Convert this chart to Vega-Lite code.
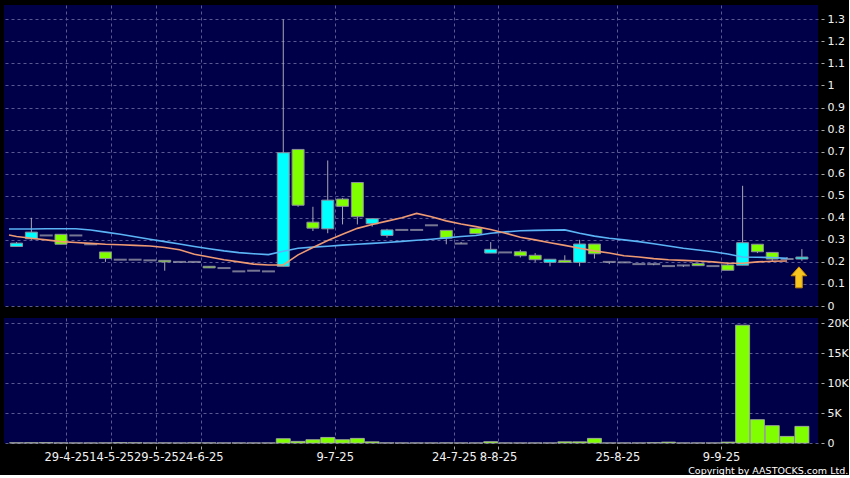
{
  "$schema": "https://vega.github.io/schema/vega-lite/v6.json",
  "background": "#000000",
  "padding": {"left": 4, "top": 5, "right": 0, "bottom": 0},
  "config": {
    "view": {"fill": "#000048", "stroke": null},
    "concat": {"spacing": 6},
    "font": "DejaVu Sans",
    "axis": {
      "gridColor": "#5a5a92",
      "gridDash": [3, 3],
      "gridWidth": 1,
      "domain": false,
      "tickColor": "#a8a8a8",
      "tickSize": 3,
      "labelColor": "#f2f2f2",
      "labelFont": "DejaVu Sans",
      "labelFontSize": 11,
      "title": null
    }
  },
  "title": {
    "text": "Copyright by AASTOCKS.com Ltd.",
    "orient": "bottom",
    "anchor": "end",
    "frame": "bounds",
    "color": "#ffffff",
    "font": "DejaVu Sans",
    "fontSize": 9.5,
    "fontWeight": "normal",
    "offset": 3
  },
  "datasets": {
    "candles": [
      {"i": 0, "o": 0.27, "h": 0.29, "l": 0.27, "c": 0.285, "v": 30},
      {"i": 1, "o": 0.305, "h": 0.40, "l": 0.30, "c": 0.335, "v": 40},
      {"i": 2, "o": 0.32, "h": 0.32, "l": 0.32, "c": 0.32, "v": 60},
      {"i": 3, "o": 0.325, "h": 0.325, "l": 0.28, "c": 0.28, "v": 20},
      {"i": 4, "o": 0.32, "h": 0.32, "l": 0.32, "c": 0.32, "v": 10},
      {"i": 5, "o": 0.28, "h": 0.28, "l": 0.28, "c": 0.28, "v": 10},
      {"i": 6, "o": 0.245, "h": 0.245, "l": 0.20, "c": 0.215, "v": 20},
      {"i": 7, "o": 0.21, "h": 0.21, "l": 0.21, "c": 0.21, "v": 60},
      {"i": 8, "o": 0.21, "h": 0.21, "l": 0.21, "c": 0.21, "v": 40},
      {"i": 9, "o": 0.207, "h": 0.207, "l": 0.207, "c": 0.207, "v": 10},
      {"i": 10, "o": 0.207, "h": 0.207, "l": 0.16, "c": 0.20, "v": 20},
      {"i": 11, "o": 0.20, "h": 0.20, "l": 0.20, "c": 0.20, "v": 10},
      {"i": 12, "o": 0.20, "h": 0.20, "l": 0.20, "c": 0.20, "v": 30},
      {"i": 13, "o": 0.18, "h": 0.18, "l": 0.172, "c": 0.173, "v": 20},
      {"i": 14, "o": 0.172, "h": 0.172, "l": 0.172, "c": 0.172, "v": 10},
      {"i": 15, "o": 0.157, "h": 0.157, "l": 0.157, "c": 0.157, "v": 10},
      {"i": 16, "o": 0.16, "h": 0.16, "l": 0.16, "c": 0.16, "v": 10},
      {"i": 17, "o": 0.157, "h": 0.157, "l": 0.157, "c": 0.157, "v": 10},
      {"i": 18, "o": 0.18, "h": 1.30, "l": 0.18, "c": 0.695, "v": 720},
      {"i": 19, "o": 0.71, "h": 0.71, "l": 0.45, "c": 0.457, "v": 270},
      {"i": 20, "o": 0.38, "h": 0.45, "l": 0.34, "c": 0.353, "v": 550},
      {"i": 21, "o": 0.35, "h": 0.66, "l": 0.33, "c": 0.48, "v": 930},
      {"i": 22, "o": 0.485, "h": 0.49, "l": 0.37, "c": 0.452, "v": 550},
      {"i": 23, "o": 0.56, "h": 0.56, "l": 0.37, "c": 0.405, "v": 770},
      {"i": 24, "o": 0.373, "h": 0.396, "l": 0.36, "c": 0.396, "v": 200},
      {"i": 25, "o": 0.32, "h": 0.35, "l": 0.31, "c": 0.345, "v": 20},
      {"i": 26, "o": 0.345, "h": 0.345, "l": 0.345, "c": 0.345, "v": 10},
      {"i": 27, "o": 0.345, "h": 0.345, "l": 0.345, "c": 0.345, "v": 10},
      {"i": 28, "o": 0.366, "h": 0.366, "l": 0.366, "c": 0.366, "v": 10},
      {"i": 29, "o": 0.343, "h": 0.343, "l": 0.28, "c": 0.308, "v": 20},
      {"i": 30, "o": 0.283, "h": 0.29, "l": 0.283, "c": 0.283, "v": 10},
      {"i": 31, "o": 0.352, "h": 0.352, "l": 0.328, "c": 0.328, "v": 10},
      {"i": 32, "o": 0.24, "h": 0.29, "l": 0.24, "c": 0.257, "v": 220},
      {"i": 33, "o": 0.243, "h": 0.243, "l": 0.243, "c": 0.243, "v": 10},
      {"i": 34, "o": 0.246, "h": 0.255, "l": 0.22, "c": 0.228, "v": 10},
      {"i": 35, "o": 0.23, "h": 0.24, "l": 0.20, "c": 0.21, "v": 10},
      {"i": 36, "o": 0.198, "h": 0.212, "l": 0.18, "c": 0.212, "v": 10},
      {"i": 37, "o": 0.207, "h": 0.23, "l": 0.198, "c": 0.198, "v": 200},
      {"i": 38, "o": 0.198, "h": 0.30, "l": 0.18, "c": 0.281, "v": 200},
      {"i": 39, "o": 0.281, "h": 0.281, "l": 0.215, "c": 0.237, "v": 770},
      {"i": 40, "o": 0.20, "h": 0.20, "l": 0.19, "c": 0.20, "v": 10},
      {"i": 41, "o": 0.198, "h": 0.198, "l": 0.198, "c": 0.198, "v": 10},
      {"i": 42, "o": 0.19, "h": 0.19, "l": 0.19, "c": 0.19, "v": 10},
      {"i": 43, "o": 0.19, "h": 0.19, "l": 0.185, "c": 0.19, "v": 50},
      {"i": 44, "o": 0.181, "h": 0.181, "l": 0.181, "c": 0.181, "v": 150},
      {"i": 45, "o": 0.184, "h": 0.184, "l": 0.177, "c": 0.184, "v": 10},
      {"i": 46, "o": 0.192, "h": 0.192, "l": 0.183, "c": 0.183, "v": 10},
      {"i": 47, "o": 0.181, "h": 0.181, "l": 0.181, "c": 0.181, "v": 10},
      {"i": 48, "o": 0.186, "h": 0.19, "l": 0.162, "c": 0.162, "v": 150},
      {"i": 49, "o": 0.185, "h": 0.545, "l": 0.185, "c": 0.287, "v": 19700},
      {"i": 50, "o": 0.28, "h": 0.28, "l": 0.24, "c": 0.246, "v": 3900},
      {"i": 51, "o": 0.243, "h": 0.243, "l": 0.20, "c": 0.213, "v": 2900},
      {"i": 52, "o": 0.213, "h": 0.222, "l": 0.213, "c": 0.213, "v": 1100},
      {"i": 53, "o": 0.213, "h": 0.258, "l": 0.205, "c": 0.222, "v": 2780}
    ],
    "ma": [
      {"i": -0.51, "blue": 0.349, "orange": 0.322},
      {"i": 0, "blue": 0.349, "orange": 0.315},
      {"i": 1, "blue": 0.349, "orange": 0.307},
      {"i": 2, "blue": 0.35, "orange": 0.30},
      {"i": 3, "blue": 0.35, "orange": 0.292},
      {"i": 4, "blue": 0.35, "orange": 0.288},
      {"i": 5, "blue": 0.345, "orange": 0.284},
      {"i": 6, "blue": 0.335, "orange": 0.28},
      {"i": 7, "blue": 0.325, "orange": 0.278},
      {"i": 8, "blue": 0.314, "orange": 0.275},
      {"i": 9, "blue": 0.303, "orange": 0.272},
      {"i": 10, "blue": 0.292, "orange": 0.265},
      {"i": 11, "blue": 0.281, "orange": 0.255},
      {"i": 12, "blue": 0.27, "orange": 0.235},
      {"i": 13, "blue": 0.26, "orange": 0.222},
      {"i": 14, "blue": 0.25, "orange": 0.21},
      {"i": 15, "blue": 0.242, "orange": 0.20},
      {"i": 16, "blue": 0.237, "orange": 0.19},
      {"i": 17, "blue": 0.233, "orange": 0.186},
      {"i": 18, "blue": 0.248, "orange": 0.186},
      {"i": 19, "blue": 0.262, "orange": 0.232},
      {"i": 20, "blue": 0.267, "orange": 0.265},
      {"i": 21, "blue": 0.271, "orange": 0.297},
      {"i": 22, "blue": 0.276, "orange": 0.325},
      {"i": 23, "blue": 0.28, "orange": 0.352},
      {"i": 24, "blue": 0.284, "orange": 0.37},
      {"i": 25, "blue": 0.288, "orange": 0.385},
      {"i": 26, "blue": 0.293, "orange": 0.40},
      {"i": 27, "blue": 0.298, "orange": 0.42},
      {"i": 28, "blue": 0.303, "orange": 0.405},
      {"i": 29, "blue": 0.309, "orange": 0.386},
      {"i": 30, "blue": 0.315, "orange": 0.372},
      {"i": 31, "blue": 0.32, "orange": 0.36},
      {"i": 32, "blue": 0.33, "orange": 0.347},
      {"i": 33, "blue": 0.336, "orange": 0.33},
      {"i": 34, "blue": 0.341, "orange": 0.312},
      {"i": 35, "blue": 0.343, "orange": 0.30},
      {"i": 36, "blue": 0.344, "orange": 0.287},
      {"i": 37, "blue": 0.345, "orange": 0.275},
      {"i": 38, "blue": 0.33, "orange": 0.262},
      {"i": 39, "blue": 0.317, "orange": 0.25},
      {"i": 40, "blue": 0.307, "orange": 0.24},
      {"i": 41, "blue": 0.30, "orange": 0.228},
      {"i": 42, "blue": 0.292, "orange": 0.222},
      {"i": 43, "blue": 0.282, "orange": 0.215},
      {"i": 44, "blue": 0.272, "orange": 0.21},
      {"i": 45, "blue": 0.262, "orange": 0.207},
      {"i": 46, "blue": 0.254, "orange": 0.204},
      {"i": 47, "blue": 0.246, "orange": 0.20},
      {"i": 48, "blue": 0.236, "orange": 0.194},
      {"i": 49, "blue": 0.222, "orange": 0.194},
      {"i": 50, "blue": 0.221, "orange": 0.20},
      {"i": 51, "blue": 0.22, "orange": 0.203},
      {"i": 52, "blue": 0.216, "orange": 0.204}
    ],
    "arrow": [{"i": 52.8, "p": 0.13}]
  },
  "vconcat": [
    {
      "width": 814,
      "height": 301,
      "encoding": {
        "x": {
          "field": "i",
          "type": "quantitative",
          "scale": {"domain": [-0.51, 53.75], "nice": false, "zero": false},
          "axis": {
            "values": [3.37, 6.39, 9.41, 12.42, 21.47, 29.51, 32.5, 40.55, 47.55],
            "grid": true,
            "labels": false,
            "ticks": false,
            "domain": false
          }
        }
      },
      "layer": [
        {
          "data": {"name": "candles"},
          "mark": {"type": "rule", "color": "#a8a8b4", "strokeWidth": 1},
          "encoding": {
            "y": {
              "field": "l",
              "type": "quantitative",
              "scale": {"domain": [0, 1.365], "nice": false, "zero": true},
              "axis": {
                "orient": "right",
                "values": [0, 0.1, 0.2, 0.3, 0.4, 0.5, 0.6, 0.7, 0.8, 0.9, 1, 1.1, 1.2, 1.3],
                "format": "~g",
                "grid": true,
                "labelOverlap": false,
                "offset": 3,
                "labelPadding": 3
              }
            },
            "y2": {"field": "h"}
          }
        },
        {
          "data": {"name": "candles"},
          "transform": [{"filter": "datum.o != datum.c"}],
          "mark": {"type": "bar", "size": 12, "stroke": "#8c8c9c", "strokeWidth": 1},
          "encoding": {
            "y": {
              "field": "o",
              "type": "quantitative",
              "axis": {
                "orient": "right",
                "values": [0, 0.1, 0.2, 0.3, 0.4, 0.5, 0.6, 0.7, 0.8, 0.9, 1, 1.1, 1.2, 1.3],
                "format": "~g",
                "grid": true,
                "labelOverlap": false,
                "offset": 3,
                "labelPadding": 3
              }
            },
            "y2": {"field": "c"},
            "fill": {
              "condition": {"test": "datum.c > datum.o", "value": "#00ffff"},
              "value": "#80ff00"
            }
          }
        },
        {
          "data": {"name": "candles"},
          "transform": [{"filter": "datum.o == datum.c"}],
          "mark": {"type": "tick", "orient": "horizontal", "size": 13, "thickness": 2, "color": "#a8a8b4"},
          "encoding": {
            "y": {
              "field": "c",
              "type": "quantitative",
              "axis": {
                "orient": "right",
                "values": [0, 0.1, 0.2, 0.3, 0.4, 0.5, 0.6, 0.7, 0.8, 0.9, 1, 1.1, 1.2, 1.3],
                "format": "~g",
                "grid": true,
                "labelOverlap": false,
                "offset": 3,
                "labelPadding": 3
              }
            }
          }
        },
        {
          "data": {"name": "ma"},
          "mark": {"type": "line", "color": "#5ab4f5", "strokeWidth": 1.6},
          "encoding": {
            "y": {
              "field": "blue",
              "type": "quantitative",
              "axis": {
                "orient": "right",
                "values": [0, 0.1, 0.2, 0.3, 0.4, 0.5, 0.6, 0.7, 0.8, 0.9, 1, 1.1, 1.2, 1.3],
                "format": "~g",
                "grid": true,
                "labelOverlap": false,
                "offset": 3,
                "labelPadding": 3
              }
            }
          }
        },
        {
          "data": {"name": "ma"},
          "mark": {"type": "line", "color": "#ee9a72", "strokeWidth": 1.6},
          "encoding": {
            "y": {
              "field": "orange",
              "type": "quantitative",
              "axis": {
                "orient": "right",
                "values": [0, 0.1, 0.2, 0.3, 0.4, 0.5, 0.6, 0.7, 0.8, 0.9, 1, 1.1, 1.2, 1.3],
                "format": "~g",
                "grid": true,
                "labelOverlap": false,
                "offset": 3,
                "labelPadding": 3
              }
            }
          }
        },
        {
          "data": {"name": "arrow"},
          "mark": {
            "type": "point",
            "shape": "M0,-1 L0.75,-0.15 L0.32,-0.15 L0.32,1 L-0.32,1 L-0.32,-0.15 L-0.75,-0.15 Z",
            "size": 440,
            "filled": true,
            "fill": "#f7c520",
            "stroke": "#c88a00",
            "strokeWidth": 1,
            "opacity": 1
          },
          "encoding": {
            "y": {
              "field": "p",
              "type": "quantitative",
              "axis": {
                "orient": "right",
                "values": [0, 0.1, 0.2, 0.3, 0.4, 0.5, 0.6, 0.7, 0.8, 0.9, 1, 1.1, 1.2, 1.3],
                "format": "~g",
                "grid": true,
                "labelOverlap": false,
                "offset": 3,
                "labelPadding": 3
              }
            }
          }
        }
      ]
    },
    {
      "width": 814,
      "height": 125,
      "data": {"name": "candles"},
      "mark": {"type": "bar", "size": 14, "fill": "#80ff00", "stroke": "#b0b0b0", "strokeWidth": 0.8},
      "encoding": {
        "x": {
          "field": "i",
          "type": "quantitative",
          "scale": {"domain": [-0.51, 53.75], "nice": false, "zero": false},
          "axis": {
            "values": [3.37, 6.39, 9.41, 12.42, 21.47, 29.51, 32.5, 40.55, 47.55],
            "labelExpr": "['29-4-25','14-5-25','29-5-25','24-6-25','9-7-25','24-7-25','8-8-25','25-8-25','9-9-25'][indexof([3.37, 6.39, 9.41, 12.42, 21.47, 29.51, 32.5, 40.55, 47.55], datum.value)]",
            "grid": true,
            "labelOverlap": false,
            "labelFlush": false,
            "labelFontSize": 11.5,
            "offset": 3,
            "labelPadding": 2
          }
        },
        "y": {
          "field": "v",
          "type": "quantitative",
          "scale": {"domain": [0, 20900], "nice": false},
          "axis": {
            "orient": "right",
            "values": [0, 5000, 10000, 15000, 20000],
            "labelExpr": "datum.value == 0 ? '0' : (datum.value / 1000) + 'K'",
            "grid": true,
            "labelOverlap": false,
            "offset": 3,
            "labelPadding": 3
          }
        }
      }
    }
  ]
}
